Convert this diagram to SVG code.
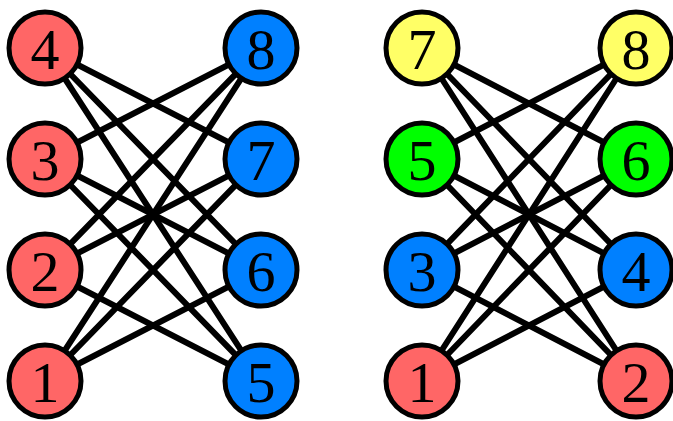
<svg xmlns="http://www.w3.org/2000/svg" width="673" height="421" viewBox="0 0 673 421">
  <style>
    .edge { stroke: #000; stroke-width: 6; stroke-linecap: round; fill: none; }
    .node circle { stroke: #000; stroke-width: 5; }
    .node text { font-family: "Liberation Serif", "DejaVu Serif", serif; font-size: 58px; text-anchor: middle; fill: #000; }
    .red { fill: #ff6666; }
    .blue { fill: #0080ff; }
    .yellow { fill: #ffff66; }
    .green { fill: #00ff00; }
  </style>
  <rect width="673" height="421" fill="#fff"/>

  <!-- connectors: crown graphs, every left node joined to every right node except the one in its own row -->
  <g id="edges">
    <!-- left graph: columns x=45 and x=261 -->
    <line class="edge" x1="45" y1="48" x2="261" y2="159"/>
    <line class="edge" x1="45" y1="48" x2="261" y2="270"/>
    <line class="edge" x1="45" y1="48" x2="261" y2="381"/>
    <line class="edge" x1="45" y1="159" x2="261" y2="48"/>
    <line class="edge" x1="45" y1="159" x2="261" y2="270"/>
    <line class="edge" x1="45" y1="159" x2="261" y2="381"/>
    <line class="edge" x1="45" y1="270" x2="261" y2="48"/>
    <line class="edge" x1="45" y1="270" x2="261" y2="159"/>
    <line class="edge" x1="45" y1="270" x2="261" y2="381"/>
    <line class="edge" x1="45" y1="381" x2="261" y2="48"/>
    <line class="edge" x1="45" y1="381" x2="261" y2="159"/>
    <line class="edge" x1="45" y1="381" x2="261" y2="270"/>
    <!-- right graph: columns x=422 and x=636 -->
    <line class="edge" x1="422" y1="48" x2="636" y2="159"/>
    <line class="edge" x1="422" y1="48" x2="636" y2="270"/>
    <line class="edge" x1="422" y1="48" x2="636" y2="381"/>
    <line class="edge" x1="422" y1="159" x2="636" y2="48"/>
    <line class="edge" x1="422" y1="159" x2="636" y2="270"/>
    <line class="edge" x1="422" y1="159" x2="636" y2="381"/>
    <line class="edge" x1="422" y1="270" x2="636" y2="48"/>
    <line class="edge" x1="422" y1="270" x2="636" y2="159"/>
    <line class="edge" x1="422" y1="270" x2="636" y2="381"/>
    <line class="edge" x1="422" y1="381" x2="636" y2="48"/>
    <line class="edge" x1="422" y1="381" x2="636" y2="159"/>
    <line class="edge" x1="422" y1="381" x2="636" y2="270"/>
  </g>

  <!-- left graph nodes -->
  <g id="L4" class="node"><circle class="red" cx="45" cy="48" r="36"/><text x="45" y="69">4</text></g>
  <g id="L3" class="node"><circle class="red" cx="45" cy="159" r="36"/><text x="45" y="180">3</text></g>
  <g id="L2" class="node"><circle class="red" cx="45" cy="270" r="36"/><text x="45" y="291">2</text></g>
  <g id="L1" class="node"><circle class="red" cx="45" cy="381" r="36"/><text x="45" y="402">1</text></g>
  <g id="L8" class="node"><circle class="blue" cx="261" cy="48" r="36"/><text x="261" y="69">8</text></g>
  <g id="L7" class="node"><circle class="blue" cx="261" cy="159" r="36"/><text x="261" y="180">7</text></g>
  <g id="L6" class="node"><circle class="blue" cx="261" cy="270" r="36"/><text x="261" y="291">6</text></g>
  <g id="L5" class="node"><circle class="blue" cx="261" cy="381" r="36"/><text x="261" y="402">5</text></g>

  <!-- right graph nodes -->
  <g id="R7" class="node"><circle class="yellow" cx="422" cy="48" r="36"/><text x="422" y="69">7</text></g>
  <g id="R5" class="node"><circle class="green" cx="422" cy="159" r="36"/><text x="422" y="180">5</text></g>
  <g id="R3" class="node"><circle class="blue" cx="422" cy="270" r="36"/><text x="422" y="291">3</text></g>
  <g id="R1" class="node"><circle class="red" cx="422" cy="381" r="36"/><text x="422" y="402">1</text></g>
  <g id="R8" class="node"><circle class="yellow" cx="636" cy="48" r="36"/><text x="636" y="69">8</text></g>
  <g id="R6" class="node"><circle class="green" cx="636" cy="159" r="36"/><text x="636" y="180">6</text></g>
  <g id="R4" class="node"><circle class="blue" cx="636" cy="270" r="36"/><text x="636" y="291">4</text></g>
  <g id="R2" class="node"><circle class="red" cx="636" cy="381" r="36"/><text x="636" y="402">2</text></g>
</svg>
